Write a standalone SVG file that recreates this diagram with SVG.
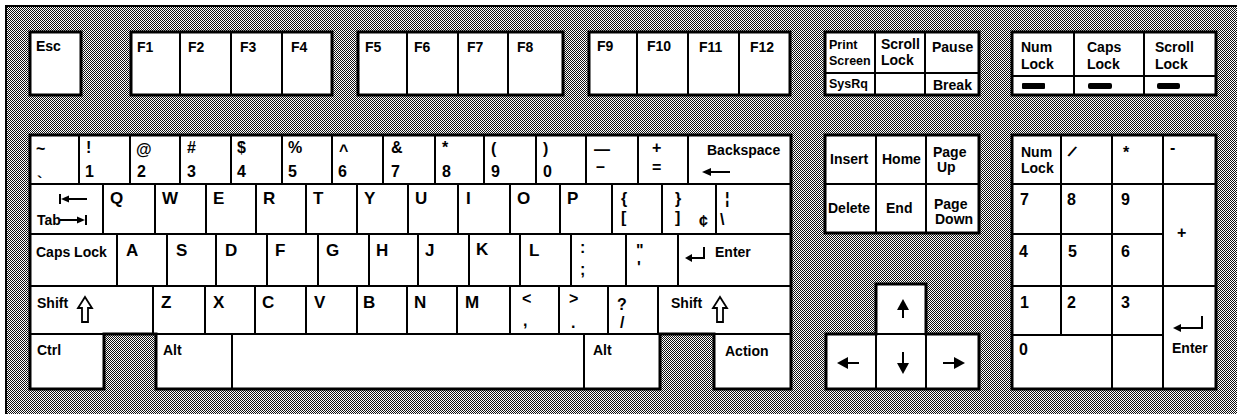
<svg xmlns="http://www.w3.org/2000/svg" width="1237" height="414" viewBox="0 0 1237 414">
<defs>
<pattern id="dots" width="2" height="2" patternUnits="userSpaceOnUse">
<rect width="2" height="2" fill="#fff"/>
<rect x="0" y="0" width="1" height="1" fill="#111"/>
<rect x="1" y="1" width="1" height="1" fill="#111"/>
</pattern>
<style>
.k{fill:#fff;stroke:#000;stroke-width:2}
.o{fill:none;stroke:#000;stroke-width:3}
.ln{stroke:#000;stroke-width:2;fill:none}
.ar{fill:#000;stroke:none}
.sh{fill:#fff;stroke:#000;stroke-width:1.8;stroke-linejoin:miter}
.bar{fill:#000}
text{font-family:'Liberation Sans',Arial,sans-serif;font-weight:bold;fill:#000}
.s{font-size:14px}
.ps{font-size:12.5px}
.l{font-size:17px}
.n{font-size:16px}
</style>
</defs>
<rect width="1237" height="414" fill="#fff"/>
<rect x="7" y="7" width="1230" height="407" fill="url(#dots)"/>
<path d="M6,414 V6 H1237" class="ln"/>

<!-- Function row -->
<g id="key-esc"><rect class="k" x="30" y="32" width="51" height="63"/><text class="s" x="36" y="51">Esc</text></g>
<g id="key-f1"><rect class="k" x="131" y="32" width="49" height="63"/><text class="s" x="137" y="52">F1</text></g>
<g id="key-f2"><rect class="k" x="180" y="32" width="51" height="63"/><text class="s" x="188" y="52">F2</text></g>
<g id="key-f3"><rect class="k" x="231" y="32" width="51" height="63"/><text class="s" x="240" y="52">F3</text></g>
<g id="key-f4"><rect class="k" x="282" y="32" width="50" height="63"/><text class="s" x="291" y="52">F4</text></g>
<g id="key-f5"><rect class="k" x="358" y="32" width="49" height="63"/><text class="s" x="365" y="52">F5</text></g>
<g id="key-f6"><rect class="k" x="407" y="32" width="51" height="63"/><text class="s" x="414" y="52">F6</text></g>
<g id="key-f7"><rect class="k" x="458" y="32" width="50" height="63"/><text class="s" x="467" y="52">F7</text></g>
<g id="key-f8"><rect class="k" x="508" y="32" width="55" height="63"/><text class="s" x="517" y="52">F8</text></g>
<g id="key-f9"><rect class="k" x="589" y="32" width="48" height="63"/><text class="s" x="597" y="51">F9</text></g>
<g id="key-f10"><rect class="k" x="637" y="32" width="51" height="63"/><text class="s" x="647" y="51">F10</text></g>
<g id="key-f11"><rect class="k" x="688" y="32" width="51" height="63"/><text class="s" x="699" y="52">F11</text></g>
<g id="key-f12"><rect class="k" x="739" y="32" width="51" height="63"/><text class="s" x="750" y="52">F12</text></g>
<rect class="o" x="30" y="32" width="51" height="63"/>
<rect class="o" x="131" y="32" width="201" height="63"/>
<rect class="o" x="358" y="32" width="205" height="63"/>
<rect class="o" x="589" y="32" width="201" height="63"/>

<!-- Print screen block -->
<g id="key-printscreen"><rect class="k" x="825" y="32" width="50" height="63"/><text class="ps" x="829" y="49">Print</text><text class="ps" x="829" y="65">Screen</text><text class="ps" x="829" y="88">SysRq</text></g>
<g id="key-scrolllock"><rect class="k" x="875" y="32" width="50" height="63"/><text class="s" x="881" y="49">Scroll</text><text class="s" x="881" y="65">Lock</text></g>
<g id="key-pause"><rect class="k" x="925" y="32" width="54" height="63"/><text class="s" x="932" y="52">Pause</text><text class="s" x="933" y="90">Break</text></g>
<line class="ln" x1="825" y1="73" x2="979" y2="73"/>
<rect class="o" x="825" y="32" width="154" height="63"/>

<!-- Lock indicators -->
<g id="ind-numlock"><rect class="k" x="1012" y="32" width="62" height="63"/><text class="s" x="1021" y="52">Num</text><text class="s" x="1021" y="69">Lock</text><rect class="bar" x="1022" y="83" width="23" height="6" rx="1"/></g>
<g id="ind-capslock"><rect class="k" x="1074" y="32" width="70" height="63"/><text class="s" x="1087" y="52">Caps</text><text class="s" x="1087" y="69">Lock</text><rect class="bar" x="1088" y="83" width="24" height="6" rx="2"/></g>
<g id="ind-scrolllock"><rect class="k" x="1144" y="32" width="72" height="63"/><text class="s" x="1155" y="52">Scroll</text><text class="s" x="1155" y="69">Lock</text><rect class="bar" x="1157" y="83" width="23" height="6" rx="2"/></g>
<line class="ln" x1="1012" y1="76" x2="1216" y2="76"/>
<rect class="o" x="1012" y="32" width="204" height="63"/>

<!-- Main block row 1 -->
<g id="key-tilde"><rect class="k" x="30" y="135" width="49" height="49"/><text class="n" x="36" y="154">~</text><text class="n" x="37" y="188" font-size="20">`</text></g>
<g id="key-1"><rect class="k" x="79" y="135" width="51" height="49"/><text class="n" x="86" y="153">!</text><text class="n" x="85" y="177">1</text></g>
<g id="key-2"><rect class="k" x="130" y="135" width="50" height="49"/><text class="n" x="136" y="155" font-size="19">@</text><text class="n" x="137" y="177">2</text></g>
<g id="key-3"><rect class="k" x="180" y="135" width="51" height="49"/><text class="n" x="187" y="153">#</text><text class="n" x="187" y="177">3</text></g>
<g id="key-4"><rect class="k" x="231" y="135" width="51" height="49"/><text class="n" x="237" y="153">$</text><text class="n" x="237" y="177">4</text></g>
<g id="key-5"><rect class="k" x="282" y="135" width="50" height="49"/><text class="n" x="288" y="153">%</text><text class="n" x="288" y="177">5</text></g>
<g id="key-6"><rect class="k" x="332" y="135" width="51" height="49"/><text class="n" x="339" y="156">^</text><text class="n" x="338" y="177">6</text></g>
<g id="key-7"><rect class="k" x="383" y="135" width="52" height="49"/><text class="n" x="391" y="153">&amp;</text><text class="n" x="391" y="177">7</text></g>
<g id="key-8"><rect class="k" x="435" y="135" width="49" height="49"/><text class="n" x="442" y="153">*</text><text class="n" x="442" y="177">8</text></g>
<g id="key-9"><rect class="k" x="484" y="135" width="52" height="49"/><text class="n" x="491" y="154">(</text><text class="n" x="491" y="177">9</text></g>
<g id="key-0"><rect class="k" x="536" y="135" width="50" height="49"/><text class="n" x="543" y="154">)</text><text class="n" x="543" y="177">0</text></g>
<g id="key-minus"><rect class="k" x="586" y="135" width="52" height="49"/><text class="n" x="594" y="155" font-size="19">—</text><text class="n" x="596" y="172" font-size="17">–</text></g>
<g id="key-equal"><rect class="k" x="638" y="135" width="50" height="49"/><text class="n" x="652" y="153" font-size="18">+</text><text class="n" x="652" y="173" font-size="17">=</text></g>
<g id="key-backspace"><rect class="k" x="688" y="135" width="103" height="49"/><text class="s" x="707" y="155">Backspace</text><line class="ln" x1="708" y1="172" x2="730" y2="172"/><polygon class="ar" points="702,172 711,168 711,176"/></g>

<!-- Row 2 -->
<g id="key-tab"><rect class="k" x="30" y="184" width="73" height="50"/><line class="ln" x1="60" y1="194" x2="60" y2="204"/><polygon class="ar" points="61,199 69,195.5 69,202.5"/><line class="ln" x1="68" y1="199" x2="87" y2="199"/><text class="s" x="37" y="225">Tab</text><line class="ln" x1="60" y1="220" x2="79" y2="220"/><polygon class="ar" points="85,220 77,216.5 77,223.5"/><line class="ln" x1="86" y1="215" x2="86" y2="225"/></g>
<g id="key-q"><rect class="k" x="103" y="184" width="52" height="50"/><text class="l" x="110" y="204">Q</text></g>
<g id="key-w"><rect class="k" x="155" y="184" width="51" height="50"/><text class="l" x="162" y="204">W</text></g>
<g id="key-e"><rect class="k" x="206" y="184" width="50" height="50"/><text class="l" x="213" y="204">E</text></g>
<g id="key-r"><rect class="k" x="256" y="184" width="50" height="50"/><text class="l" x="263" y="204">R</text></g>
<g id="key-t"><rect class="k" x="306" y="184" width="51" height="50"/><text class="l" x="313" y="204">T</text></g>
<g id="key-y"><rect class="k" x="357" y="184" width="51" height="50"/><text class="l" x="364" y="204">Y</text></g>
<g id="key-u"><rect class="k" x="408" y="184" width="50" height="50"/><text class="l" x="415" y="204">U</text></g>
<g id="key-i"><rect class="k" x="458" y="184" width="52" height="50"/><text class="l" x="466" y="204">I</text></g>
<g id="key-o"><rect class="k" x="510" y="184" width="50" height="50"/><text class="l" x="517" y="204">O</text></g>
<g id="key-p"><rect class="k" x="560" y="184" width="52" height="50"/><text class="l" x="567" y="204">P</text></g>
<g id="key-lbracket"><rect class="k" x="612" y="184" width="50" height="50"/><text class="n" x="621" y="204">{</text><text class="n" x="621" y="223">[</text></g>
<g id="key-rbracket"><rect class="k" x="662" y="184" width="54" height="50"/><text class="n" x="675" y="204">}</text><text class="n" x="675" y="223">]</text><text class="n" x="699" y="227">¢</text></g>
<g id="key-backslash"><rect class="k" x="716" y="184" width="75" height="50"/><text class="n" x="725" y="204">¦</text><text class="n" x="720" y="225">\</text></g>

<!-- Row 3 -->
<g id="key-capslock"><rect class="k" x="30" y="234" width="87" height="52"/><text class="s" x="36" y="257">Caps Lock</text></g>
<g id="key-a"><rect class="k" x="117" y="234" width="50" height="52"/><text class="l" x="126" y="256">A</text></g>
<g id="key-s"><rect class="k" x="167" y="234" width="49" height="52"/><text class="l" x="176" y="256">S</text></g>
<g id="key-d"><rect class="k" x="216" y="234" width="51" height="52"/><text class="l" x="225" y="256">D</text></g>
<g id="key-f"><rect class="k" x="267" y="234" width="51" height="52"/><text class="l" x="275" y="256">F</text></g>
<g id="key-g"><rect class="k" x="318" y="234" width="51" height="52"/><text class="l" x="326" y="256">G</text></g>
<g id="key-h"><rect class="k" x="369" y="234" width="49" height="52"/><text class="l" x="376" y="256">H</text></g>
<g id="key-j"><rect class="k" x="418" y="234" width="51" height="52"/><text class="l" x="425" y="256">J</text></g>
<g id="key-k"><rect class="k" x="469" y="234" width="51" height="52"/><text class="l" x="476" y="255">K</text></g>
<g id="key-l"><rect class="k" x="520" y="234" width="51" height="52"/><text class="l" x="529" y="256">L</text></g>
<g id="key-semicolon"><rect class="k" x="571" y="234" width="55" height="52"/><text class="n" x="580" y="253">:</text><text class="n" x="580" y="275">;</text></g>
<g id="key-quote"><rect class="k" x="626" y="234" width="52" height="52"/><text class="n" x="636" y="256">"</text><text class="n" x="637" y="273">'</text></g>
<g id="key-enter"><rect class="k" x="678" y="234" width="113" height="52"/><path class="ln" d="M704,247 V258 H691"/><polygon class="ar" points="685,258 692,254 692,262"/><text class="s" x="715" y="257">Enter</text></g>

<!-- Row 4 -->
<g id="key-lshift"><rect class="k" x="30" y="286" width="123" height="48"/><text class="s" x="37" y="308">Shift</text><polygon class="sh" points="85,297 92,308 88,308 88,322 82,322 82,308 78,308"/></g>
<g id="key-z"><rect class="k" x="153" y="286" width="52" height="48"/><text class="l" x="161" y="308">Z</text></g>
<g id="key-x"><rect class="k" x="205" y="286" width="50" height="48"/><text class="l" x="213" y="308">X</text></g>
<g id="key-c"><rect class="k" x="255" y="286" width="51" height="48"/><text class="l" x="262" y="308">C</text></g>
<g id="key-v"><rect class="k" x="306" y="286" width="51" height="48"/><text class="l" x="314" y="308">V</text></g>
<g id="key-b"><rect class="k" x="357" y="286" width="50" height="48"/><text class="l" x="363" y="308">B</text></g>
<g id="key-n"><rect class="k" x="407" y="286" width="50" height="48"/><text class="l" x="414" y="308">N</text></g>
<g id="key-m"><rect class="k" x="457" y="286" width="53" height="48"/><text class="l" x="465" y="308">M</text></g>
<g id="key-comma"><rect class="k" x="510" y="286" width="49" height="48"/><text class="n" x="522" y="304">&lt;</text><text class="n" x="523" y="326">,</text></g>
<g id="key-period"><rect class="k" x="559" y="286" width="49" height="48"/><text class="n" x="569" y="304">&gt;</text><text class="n" x="571" y="328">.</text></g>
<g id="key-slash"><rect class="k" x="608" y="286" width="50" height="48"/><text class="n" x="617" y="310">?</text><text class="n" x="620" y="328">/</text></g>
<g id="key-rshift"><rect class="k" x="658" y="286" width="133" height="48"/><text class="s" x="671" y="308">Shift</text><polygon class="sh" points="720,297 727,308 723,308 723,322 717,322 717,308 713,308"/></g>

<!-- Row 5 -->
<g id="key-ctrl"><rect class="k" x="30" y="334" width="74" height="55"/><text class="s" x="37" y="355">Ctrl</text></g>
<g id="key-lalt"><rect class="k" x="156" y="334" width="76" height="55"/><text class="s" x="163" y="355">Alt</text></g>
<g id="key-space"><rect class="k" x="232" y="334" width="352" height="55"/></g>
<g id="key-ralt"><rect class="k" x="584" y="334" width="76" height="55"/><text class="s" x="593" y="355">Alt</text></g>
<g id="key-action"><rect class="k" x="714" y="334" width="77" height="55"/><text class="s" x="725" y="356">Action</text></g>
<path class="o" d="M30,135 H791 V389 H714 V334 H660 V389 H156 V334 H104 V389 H30 Z"/>

<!-- Edit block -->
<g id="key-insert"><rect class="k" x="825" y="135" width="51" height="49"/><text class="s" x="830" y="164">Insert</text></g>
<g id="key-home"><rect class="k" x="876" y="135" width="50" height="49"/><text class="s" x="882" y="164">Home</text></g>
<g id="key-pageup"><rect class="k" x="926" y="135" width="53" height="49"/><text class="s" x="933" y="157">Page</text><text class="s" x="937" y="172">Up</text></g>
<g id="key-delete"><rect class="k" x="825" y="184" width="51" height="49"/><text class="s" x="828" y="213">Delete</text></g>
<g id="key-end"><rect class="k" x="876" y="184" width="50" height="49"/><text class="s" x="886" y="213">End</text></g>
<g id="key-pagedown"><rect class="k" x="926" y="184" width="53" height="49"/><text class="s" x="934" y="209">Page</text><text class="s" x="935" y="224">Down</text></g>
<rect class="o" x="825" y="135" width="154" height="98"/>

<!-- Arrow keys -->
<g id="key-up"><rect class="k" x="876" y="284" width="50" height="50"/><polygon class="ar" points="903,299 909,310 897,310"/><line class="ln" x1="903" y1="309" x2="903" y2="318"/></g>
<g id="key-left"><rect class="k" x="826" y="334" width="50" height="55"/><polygon class="ar" points="837,363 848,357 848,369"/><line class="ln" x1="847" y1="363" x2="859" y2="363"/></g>
<g id="key-down"><rect class="k" x="876" y="334" width="50" height="55"/><line class="ln" x1="903" y1="352" x2="903" y2="364"/><polygon class="ar" points="897,363 909,363 903,374"/></g>
<g id="key-right"><rect class="k" x="926" y="334" width="53" height="55"/><line class="ln" x1="943" y1="363" x2="955" y2="363"/><polygon class="ar" points="954,357 965,363 954,369"/></g>
<path class="o" d="M876,284 H926 V334 H979 V389 H826 V334 H876 Z"/>

<!-- Numeric keypad -->
<g id="key-numlock"><rect class="k" x="1012" y="135" width="49" height="49"/><text class="s" x="1021" y="157">Num</text><text class="s" x="1021" y="173">Lock</text></g>
<g id="key-kpslash"><rect class="k" x="1061" y="135" width="51" height="49"/><text class="n" x="1070" y="158" transform="rotate(30 1074 152)">/</text></g>
<g id="key-kpstar"><rect class="k" x="1112" y="135" width="51" height="49"/><text class="n" x="1123" y="158" font-size="14">*</text></g>
<g id="key-kpminus"><rect class="k" x="1163" y="135" width="53" height="49"/><text class="n" x="1170" y="153" font-size="13">-</text></g>
<g id="key-kp7"><rect class="k" x="1012" y="184" width="49" height="50"/><text class="n" x="1020" y="205">7</text></g>
<g id="key-kp8"><rect class="k" x="1061" y="184" width="51" height="50"/><text class="n" x="1067" y="205">8</text></g>
<g id="key-kp9"><rect class="k" x="1112" y="184" width="51" height="50"/><text class="n" x="1121" y="205">9</text></g>
<g id="key-kpplus"><rect class="k" x="1163" y="184" width="53" height="102"/><text class="n" x="1177" y="238" font-size="18">+</text></g>
<g id="key-kp4"><rect class="k" x="1012" y="234" width="49" height="52"/><text class="n" x="1019" y="257">4</text></g>
<g id="key-kp5"><rect class="k" x="1061" y="234" width="51" height="52"/><text class="n" x="1068" y="257">5</text></g>
<g id="key-kp6"><rect class="k" x="1112" y="234" width="51" height="52"/><text class="n" x="1121" y="257">6</text></g>
<g id="key-kp1"><rect class="k" x="1012" y="286" width="49" height="49"/><text class="n" x="1020" y="308">1</text></g>
<g id="key-kp2"><rect class="k" x="1061" y="286" width="51" height="49"/><text class="n" x="1067" y="308">2</text></g>
<g id="key-kp3"><rect class="k" x="1112" y="286" width="51" height="49"/><text class="n" x="1121" y="308">3</text></g>
<g id="key-kpenter"><rect class="k" x="1163" y="286" width="53" height="103"/><path class="ln" d="M1202,316 V328 H1179"/><polygon class="ar" points="1173,328 1181,324 1181,332"/><text class="s" x="1172" y="353">Enter</text></g>
<g id="key-kp0"><rect class="k" x="1012" y="335" width="100" height="54"/><text class="n" x="1019" y="355">0</text></g>
<g id="key-kpdot"><rect class="k" x="1112" y="335" width="51" height="54"/></g>
<rect class="o" x="1012" y="135" width="204" height="254"/>
</svg>
